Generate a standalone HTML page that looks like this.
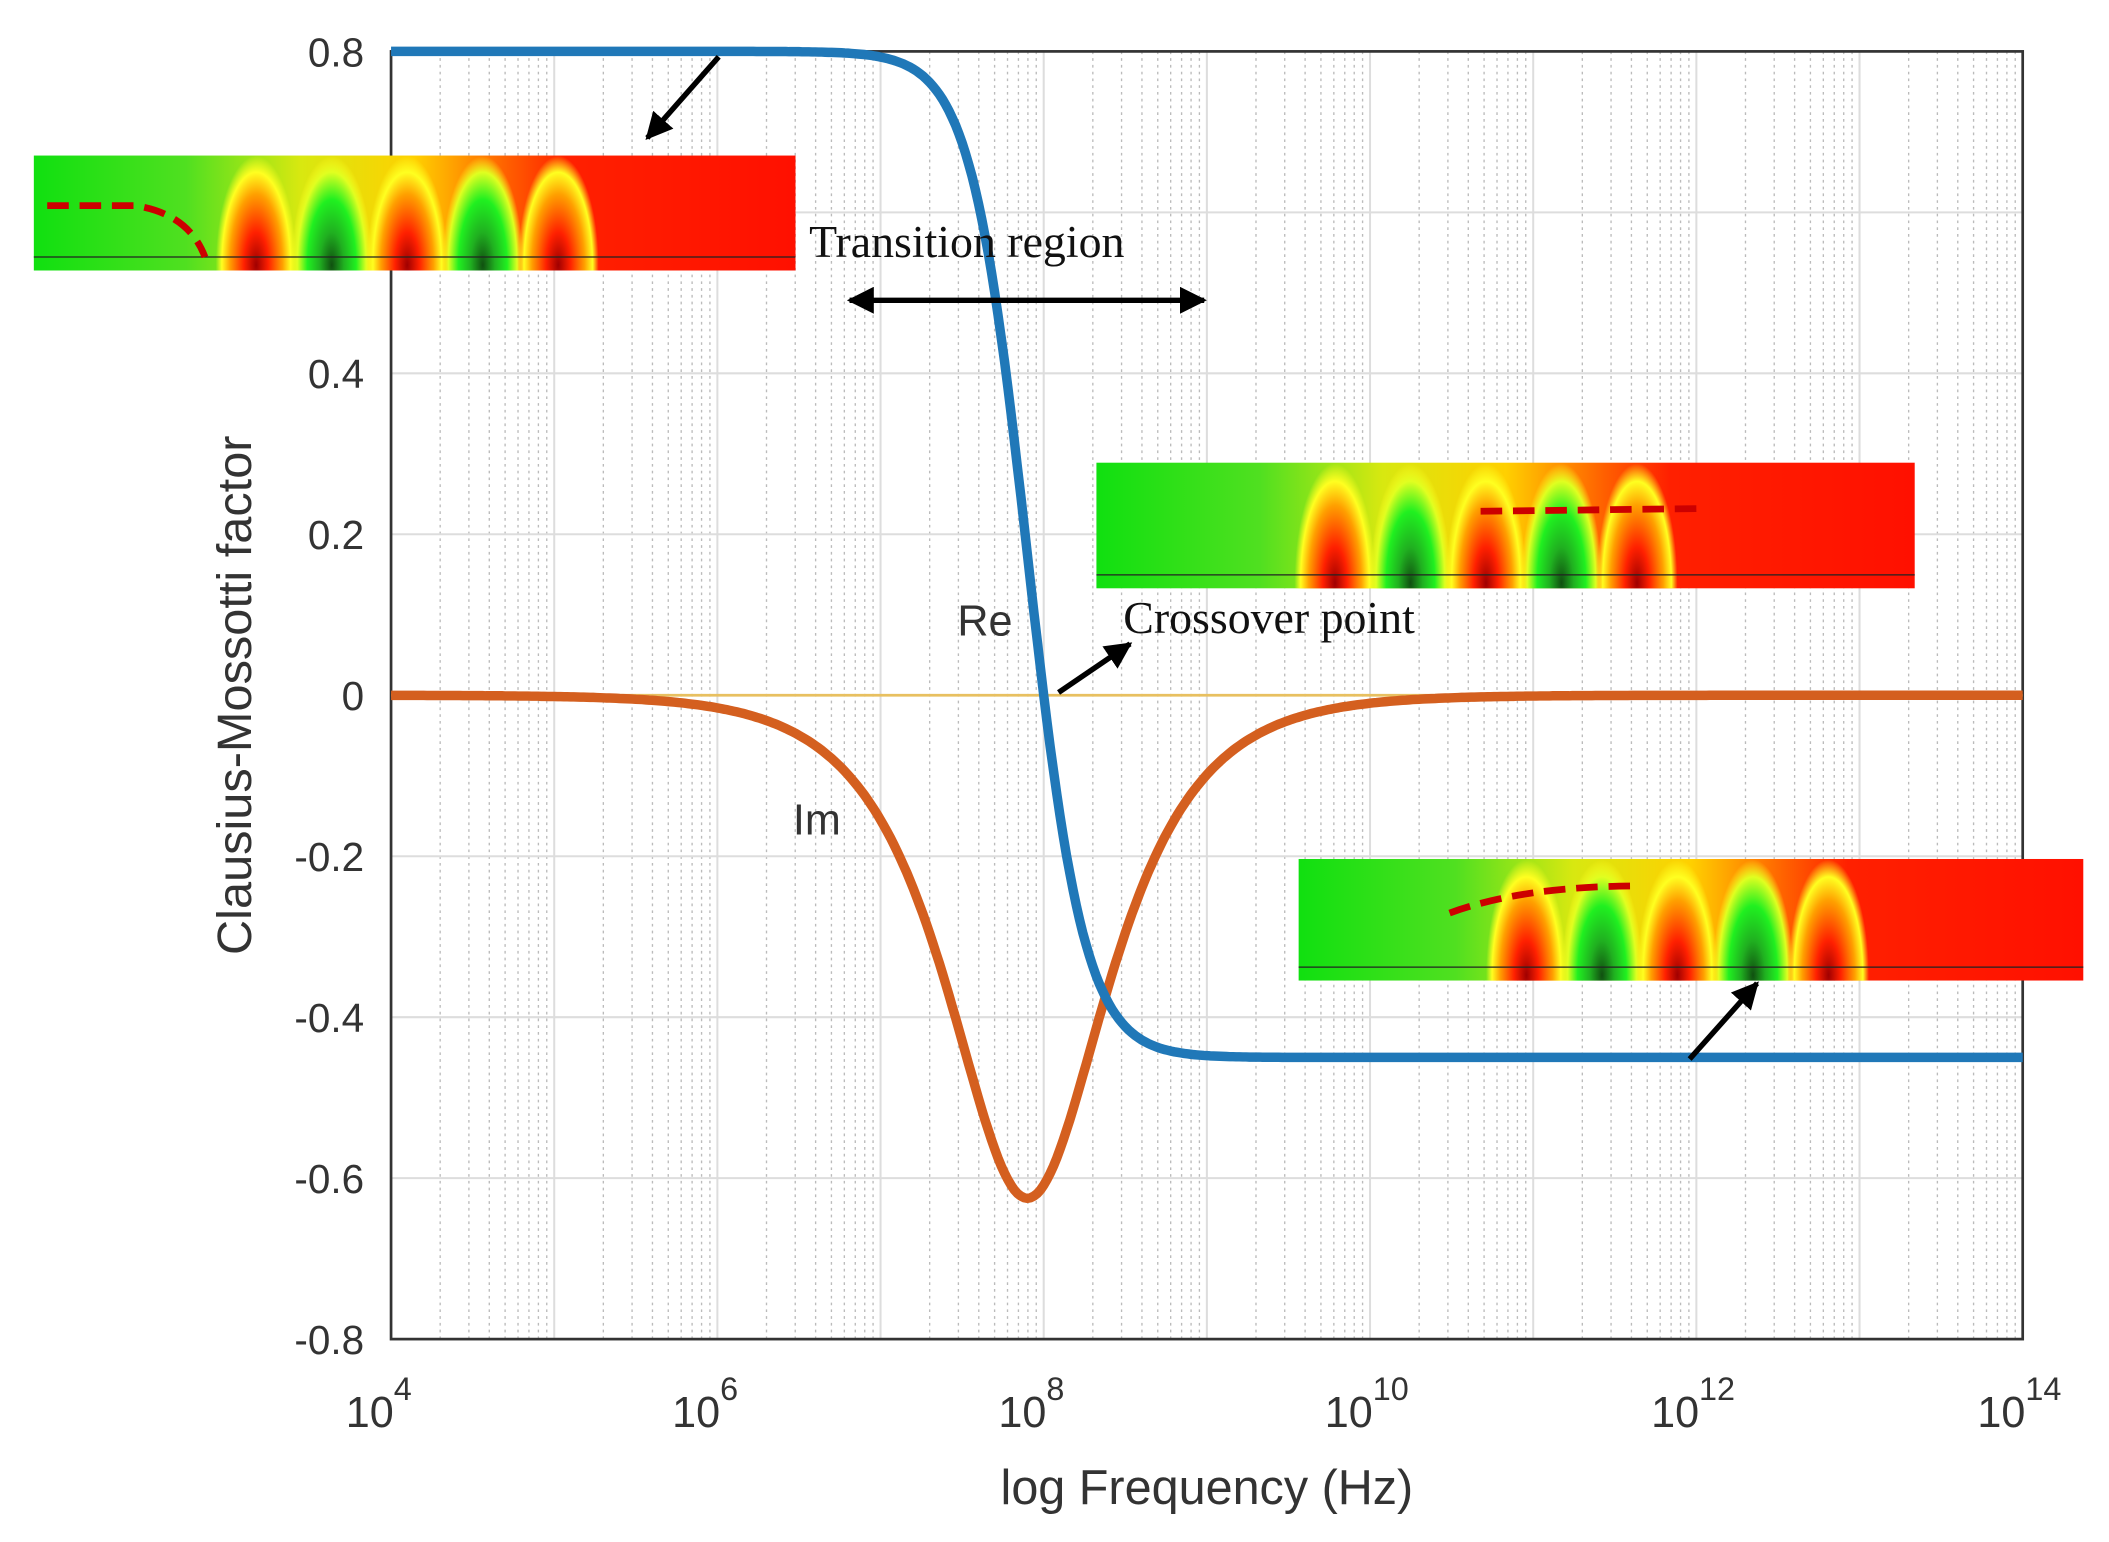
<!DOCTYPE html>
<html><head><meta charset="utf-8"><style>
html,body{margin:0;padding:0;background:#fff;}
svg{display:block;}
text{font-family:"Liberation Sans",sans-serif;fill:#333;}
</style></head><body>
<svg id="s" width="2109" height="1542" viewBox="0 0 1564 1140" preserveAspectRatio="none" xmlns="http://www.w3.org/2000/svg">
<defs>
<linearGradient id="bg" x1="0" x2="1" y1="0" y2="0">
<stop offset="0" stop-color="#10e010"/><stop offset="0.2" stop-color="#50e020"/><stop offset="0.35" stop-color="#d8e810"/><stop offset="0.5" stop-color="#ffd000"/><stop offset="0.62" stop-color="#ff6000"/><stop offset="0.7" stop-color="#ff2000"/><stop offset="1" stop-color="#ff1000"/>
</linearGradient>
<radialGradient id="hotA" cx="0.5" cy="0.5" r="0.5"><stop offset="0" stop-color="#a00000"/><stop offset="0.3" stop-color="#ff2000"/><stop offset="0.65" stop-color="#ffa000"/><stop offset="0.85" stop-color="#ffff20"/><stop offset="1" stop-color="#ffff20" stop-opacity="0"/></radialGradient>
<radialGradient id="coldA" cx="0.5" cy="0.5" r="0.5"><stop offset="0" stop-color="#105010"/><stop offset="0.3" stop-color="#20b020"/><stop offset="0.6" stop-color="#20f020"/><stop offset="0.85" stop-color="#e0ff20"/><stop offset="1" stop-color="#ffff20" stop-opacity="0"/></radialGradient>
<marker id="ah" viewBox="0 0 10 10" refX="9" refY="5" markerWidth="5" markerHeight="5" orient="auto-start-reverse"><path d="M0,0L10,5L0,10z" fill="#000"/></marker>
</defs>
<g id="grid"></g>
<rect x="290" y="38" width="1210" height="952" fill="none" stroke="#333" stroke-width="2"/>
<line x1="290" y1="514" x2="1500" y2="514" stroke="#e8c060" stroke-width="2"/>
<path id="im" fill="none" stroke="#d45f1f" stroke-width="7"/>
<path id="re" fill="none" stroke="#2078b8" stroke-width="7"/>
<g id="labels"></g>
<text x="895" y="1112" font-size="36" text-anchor="middle">log Frequency (Hz)</text>
<text transform="translate(186,514) rotate(-90)" font-size="36" text-anchor="middle">Clausius-Mossotti factor</text>
<text x="710" y="470" font-size="32">Re</text>
<text x="588" y="617" font-size="32">Im</text>
<text x="600" y="190" font-size="34" style="font-family:'Liberation Serif',serif;fill:#111">Transition region</text>
<text x="833" y="468" font-size="34" style="font-family:'Liberation Serif',serif;fill:#111">Crossover point</text>
<line x1="630" y1="222" x2="893" y2="222" stroke="#000" stroke-width="4" marker-start="url(#ah)" marker-end="url(#ah)"/>
<line x1="533" y1="42" x2="480" y2="102" stroke="#000" stroke-width="4" marker-end="url(#ah)"/>
<line x1="785" y1="512" x2="838" y2="476" stroke="#000" stroke-width="4" marker-end="url(#ah)"/>
<line x1="1253" y1="783" x2="1303" y2="727" stroke="#000" stroke-width="4" marker-end="url(#ah)"/>
<g id="ins"></g>
</svg>
<script>
var NS="http://www.w3.org/2000/svg";
function el(t,a,p){var e=document.createElementNS(NS,t);for(var k in a)e.setAttribute(k,a[k]);(p||document.getElementById('s')).appendChild(e);return e;}
var g=document.getElementById('grid'),L=document.getElementById('labels');
function X(l){return 290+(l-4)*121;}function Y(v){return 514-v*595;}
for(var d=4;d<14;d++){for(var m=2;m<10;m++){var x=X(d+Math.log10(m));el('line',{x1:x,x2:x,y1:38,y2:990,stroke:'#bbb','stroke-width':1,'stroke-dasharray':'2,3'},g);}}
for(var d=4;d<=14;d++){var x=X(d);el('line',{x1:x,x2:x,y1:38,y2:990,stroke:'#ddd','stroke-width':1.5},g);
if(d%2==0){var t=el('text',{x:x+2,y:1055,'font-size':32,'text-anchor':'end'},L);t.textContent='10';var s=el('text',{x:x+2,y:1035,'font-size':24,'text-anchor':'start'},L);s.textContent=d;}}
for(var i=-4;i<=4;i++){var v=i*0.2,y=Y(v);el('line',{x1:290,x2:1500,y1:y,y2:y,stroke:'#ddd','stroke-width':1.5},g);
var t=el('text',{x:270,y:y+11,'font-size':30,'text-anchor':'end'},L);t.textContent=(i==0?'0':v.toFixed(1));}
var re='',im='',fc=7.9;
for(var l=4;l<=14.001;l+=0.02){var u=Math.pow(10,l-fc),den=1+u*u;var u2=Math.pow(10,1.25*(l-fc)),r=-0.45+1.25/(1+u2*u2),m=-1.25*u/den;
re+=(l==4?'M':'L')+X(l).toFixed(1)+','+Y(r).toFixed(1);im+=(l==4?'M':'L')+X(l).toFixed(1)+','+Y(m).toFixed(1);}
document.getElementById('re').setAttribute('d',re);document.getElementById('im').setAttribute('d',im);
var ins=document.getElementById('ins'),defs=document.querySelector('defs'),n=0;
function inset(x,y,w,h,x0,dash){n++;var cp=el('clipPath',{id:'c'+n},defs);el('rect',{x:x,y:y,width:w,height:h},cp);
var gg=el('g',{'clip-path':'url(#c'+n+')'},ins);
el('rect',{x:x,y:y,width:w,height:h,fill:'url(#bg)'},gg);
for(var k=0;k<5;k++){var cx=x0+k*56;el('ellipse',{cx:cx,cy:y+h-4,rx:30,ry:h*0.95,fill:k%2?'url(#coldA)':'url(#hotA)'},gg);}
el('line',{x1:x,x2:x+w,y1:y+h-10,y2:y+h-10,stroke:'#222','stroke-width':1},gg);
el('path',{d:dash,fill:'none',stroke:'#c00','stroke-width':5,'stroke-dasharray':'16,8'},gg);}
inset(25,115,565,85,190,'M35,152L100,152Q140,158 152,190');
inset(813,342,607,93,990,'M1098,378L1258,376');
inset(963,635,582,90,1132,'M1075,675Q1130,655 1215,655');
</script>
</body></html>
